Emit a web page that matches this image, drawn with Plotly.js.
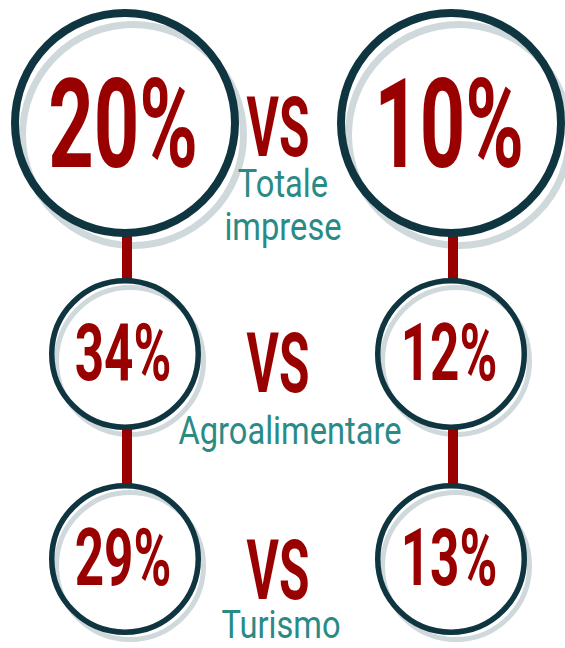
<!DOCTYPE html>
<html>
<head>
<meta charset="utf-8">
<script src="https://cdn.plot.ly/plotly-3.0.1.min.js"></script>
<style>
  html, body { margin: 0; padding: 0; background: #ffffff; }
  #chart { width: 565px; height: 648px; }
  /* condensed look of the original typeface */
  #chart .tracepctL text, #chart .tracepctR text {
    transform: scaleX(0.64); transform-box: fill-box; transform-origin: center;
  }
  #chart .tracevs text {
    transform: scaleX(0.59); transform-box: fill-box; transform-origin: center;
  }
  #chart .tracelbl text {
    transform: scaleX(0.86); transform-box: fill-box; transform-origin: center;
  }
</style>
</head>
<body>
<div id="chart"></div>
<script>
// ---- data ----
const categories = ["Totale imprese", "Agroalimentare", "Turismo"];
const leftValues = [20, 34, 29];
const rightValues = [10, 12, 13];
const vsLabel = "VS";

// ---- layout constants (positions / sizes / styles) ----
const W = 565, H = 648;
const colX = [125, 451];
const rowY = [123, 354, 559];
const ringOuter = [114, 76, 76];
const ringWidth = [8, 5.5, 5.5];
const shadowOffset = [[8, 12], [5, 7], [5, 7]];
const shadowWidth = [7, 5, 5];
const pctSize = [124, 80, 80];
const pctDy = [13, 6, 6];
const vsY = [135, 371, 578];
const vsX = 278;
const labelX = [283, 290, 281];
const labelFirstY = [188, 435, 629];
const labelLineGap = 43;

const RED = "#990000";
const DARK = "#0f3640";
const GRAY = "#cfd8db";
const TEAL = "#2a8a86";
const FONT = "Roboto, Liberation Sans, DejaVu Sans, sans-serif";

const shapes = [];

// shadow rings
categories.forEach((c, i) => {
  colX.forEach(cx => {
    const r = ringOuter[i] - shadowWidth[i] / 2;
    const x = cx + shadowOffset[i][0], y = rowY[i] + shadowOffset[i][1];
    shapes.push({ type: "circle", xref: "x", yref: "y", layer: "below",
      x0: x - r, x1: x + r, y0: y - r, y1: y + r,
      line: { color: GRAY, width: shadowWidth[i] }, fillcolor: "rgba(0,0,0,0)" });
  });
});

// red connectors
colX.forEach(cx => {
  for (let i = 0; i < categories.length - 1; i++) {
    shapes.push({ type: "line", xref: "x", yref: "y", layer: "below",
      x0: cx + 2, x1: cx + 2,
      y0: rowY[i] + ringOuter[i] - 2, y1: rowY[i + 1] - ringOuter[i + 1] + 2,
      line: { color: RED, width: 10 } });
  }
});

// dark rings
categories.forEach((c, i) => {
  colX.forEach(cx => {
    const r = ringOuter[i] - ringWidth[i] / 2;
    shapes.push({ type: "circle", xref: "x", yref: "y", layer: "below",
      x0: cx - r, x1: cx + r, y0: rowY[i] - r, y1: rowY[i] + r,
      line: { color: DARK, width: ringWidth[i] }, fillcolor: "rgba(0,0,0,0)" });
  });
});

const traces = [];

// percentages
[leftValues, rightValues].forEach((vals, k) => {
  traces.push({
    type: "scatter", mode: "text", uid: k === 0 ? "pctL" : "pctR",
    x: vals.map(() => colX[k] - 2),
    y: vals.map((v, i) => rowY[i] + pctDy[i]),
    text: vals.map(v => v + "%"),
    textposition: "middle center",
    hoverinfo: "skip",
    textfont: { family: FONT, size: pctSize, color: RED, weight: 700 }
  });
});

// VS
traces.push({
  type: "scatter", mode: "text", uid: "vs",
  x: categories.map(() => vsX),
  y: vsY,
  text: categories.map(() => vsLabel),
  textposition: "middle center",
  hoverinfo: "skip",
  textfont: { family: FONT, size: 84, color: RED, weight: 700 }
});

// category labels (split into lines)
{
  const xs = [], ys = [], tx = [];
  categories.forEach((c, i) => {
    const lines = c.split(" ");
    lines.forEach((ln, j) => {
      xs.push(labelX[i]);
      ys.push(labelFirstY[i] + j * labelLineGap);
      tx.push(ln);
    });
  });
  traces.push({
    type: "scatter", mode: "text", uid: "lbl", x: xs, y: ys, text: tx,
    textposition: "middle center", hoverinfo: "skip",
    textfont: { family: FONT, size: 38, color: TEAL }
  });
}

const layout = {
  width: W, height: H,
  margin: { l: 0, r: 0, t: 0, b: 0, pad: 0 },
  paper_bgcolor: "#ffffff", plot_bgcolor: "rgba(0,0,0,0)",
  showlegend: false,
  xaxis: { range: [0, W], visible: false, fixedrange: true },
  yaxis: { range: [H, 0], visible: false, fixedrange: true },
  hovermode: false,
  shapes: shapes
};

Plotly.newPlot("chart", traces, layout, { displayModeBar: false, staticPlot: true });
</script>
</body>
</html>
